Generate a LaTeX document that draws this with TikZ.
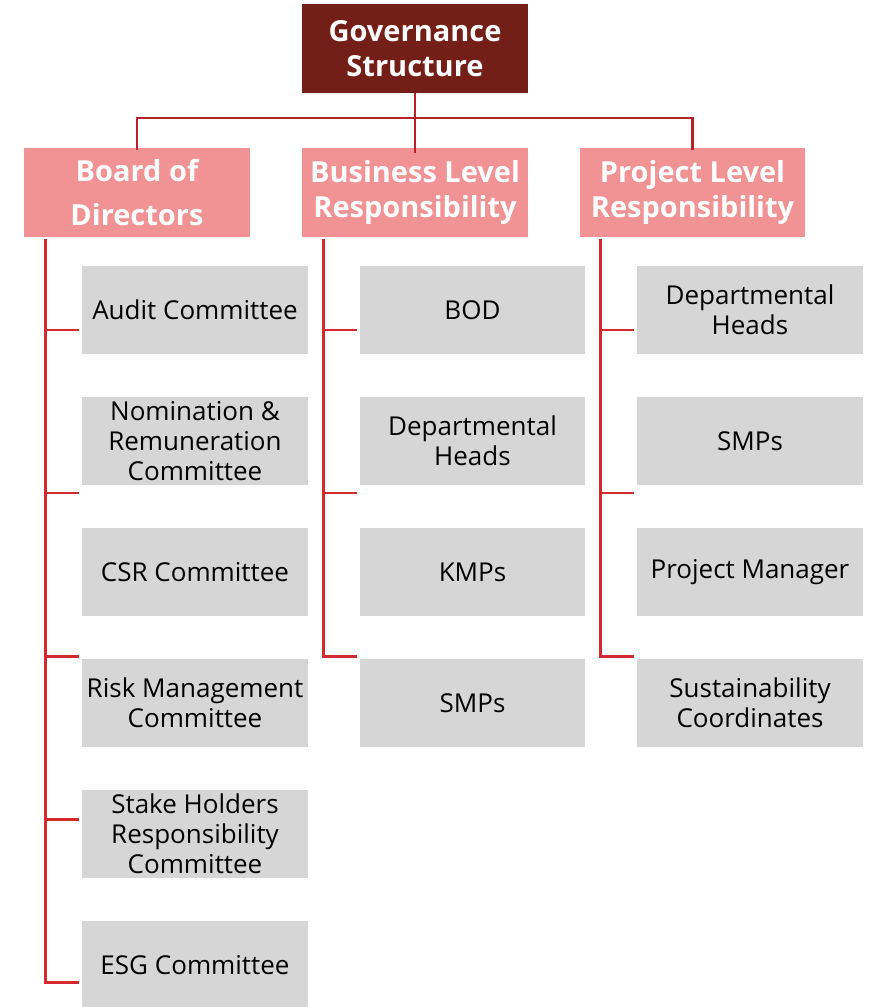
\documentclass[tikz,border=0pt]{standalone}
\usepackage{fontspec}
\setmainfont{Open Sans}
\definecolor{govred}{HTML}{731E16}
\definecolor{headpink}{HTML}{F19294}
\definecolor{itemgrey}{HTML}{D6D6D6}
\definecolor{toplink}{HTML}{B82128}
\definecolor{sidelink}{HTML}{D42A2F}
\tikzset{
  topbox/.style={fill=govred, text=white, align=center, inner sep=0pt,
    minimum width=4.52cm, minimum height=1.78cm,
    font=\bfseries\fontsize{16.5}{19.8}\selectfont},
  headbox/.style={topbox, fill=headpink},
  itembox/.style={fill=itemgrey, text=black, align=center, inner sep=0pt,
    minimum width=4.52cm, minimum height=1.76cm,
    font=\fontsize{14.8}{17}\selectfont},
  toplinks/.style={draw=toplink, line width=1.7pt},
  sidelinks/.style={draw=sidelink, line width=1.7pt},
}
\begin{document}
\begin{tikzpicture}[x=0.02cm,y=-0.02cm]
\useasboundingbox (0,0) rectangle (876,1007);
%
\node[topbox] at (415,48.5) (gov) {Governance\\Structure};
\node[headbox, font=\bfseries\fontsize{16.5}{25}\selectfont] at (137,192.5) (bod) {Board of\\Directors};
\node[headbox] at (415,192.5) (blr) {Business Level\\Responsibility};
\node[headbox] at (692.5,192.5) (plr) {Project Level\\Responsibility};
%
\coordinate (hub) at (415,118);
\draw[toplinks] (gov.south) -- ([yshift=-0.1cm]blr.north);
\draw[toplinks] ([yshift=-0.05cm]bod.north) |- (hub) -| ([yshift=-0.05cm]plr.north);
%
\foreach \txt [count=\i] in {Audit Committee, {Nomination \&\\Remuneration\\Committee},
    CSR Committee, {Risk Management\\Committee}, {Stake Holders\\Responsibility\\Committee},
    ESG Committee}
  \node[itembox] at (195,{310+131*(\i-1)}) (l\i) {\txt};
\foreach \txt [count=\i] in {BOD, {Departmental\\Heads}, KMPs, SMPs}
  \node[itembox] at (472.5,{310+131*(\i-1)}) (m\i) {\txt};
\foreach \txt [count=\i] in {{Departmental\\Heads}, SMPs, Project Manager,
    {Sustainability\\Coordinates}}
  \node[itembox] at (750,{310+131*(\i-1)}) (r\i) {\txt};
%
\coordinate (lt) at ([xshift=0.44cm,yshift=-0.04cm]bod.south west);
\coordinate (mt) at ([xshift=0.44cm,yshift=-0.04cm]blr.south west);
\coordinate (rt) at ([xshift=0.42cm,yshift=-0.04cm]plr.south west);
\foreach \i in {1,...,5} \coordinate (lb\i) at (79,{330+163*(\i-1)});
\foreach \i in {1,...,3} {
  \coordinate (mb\i) at (357,{330+163*(\i-1)});
  \coordinate (rb\i) at (634,{330+163*(\i-1)});
}
%
\draw[sidelinks] (lt) |- (lb5);
\foreach \i in {1,...,4} \draw[sidelinks] (lt |- lb\i) -- (lb\i);
\draw[sidelinks] (mt) |- (mb3);
\draw[sidelinks] (rt) |- (rb3);
\foreach \i in {1,2} {
  \draw[sidelinks] (mt |- mb\i) -- (mb\i);
  \draw[sidelinks] (rt |- rb\i) -- (rb\i);
}
\end{tikzpicture}
\end{document}
